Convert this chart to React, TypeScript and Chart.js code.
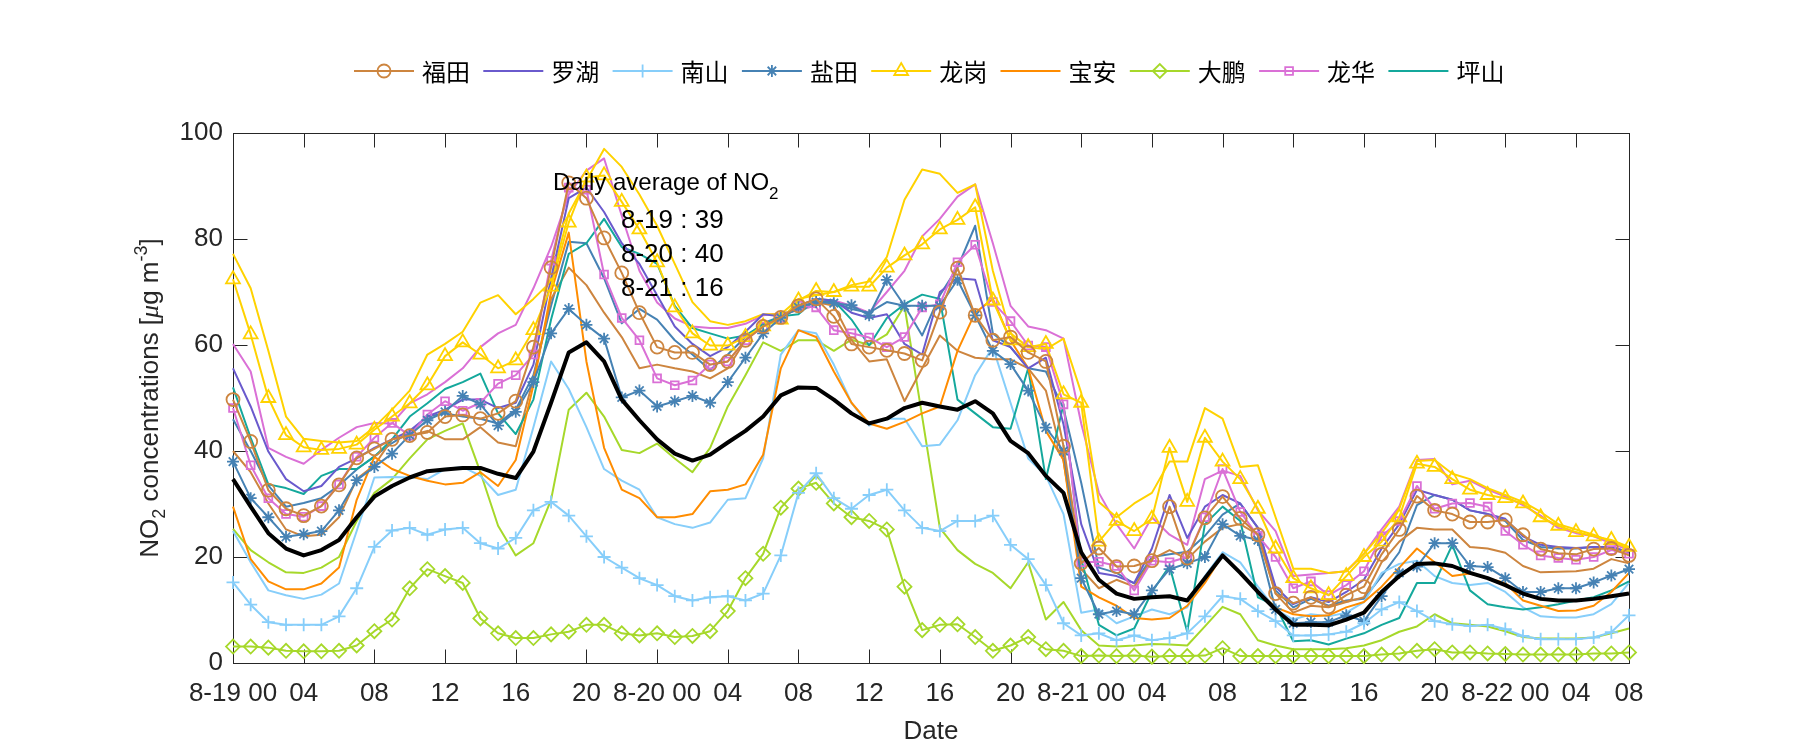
import React, { useEffect, useRef } from 'react';
import { Chart, registerables } from 'chart.js';
import { drawPoint } from 'chart.js/helpers';

Chart.register(...registerables);

// ---------- data ----------
const HOURS = Array.from({ length: 80 }, (_, i) => i);
const X_TICKS = [0, 4, 8, 12, 16, 20, 24, 28, 32, 36, 40, 44, 48, 52, 56, 60, 64, 68, 72, 76, 79];
const X_TICK_LABELS = ['8-19 00', '04', '08', '12', '16', '20', '8-20 00', '04', '08', '12', '16', '20', '8-21 00', '04', '08', '12', '16', '20', '8-22 00', '04', '08'];
const Y_TICKS = [0, 20, 40, 60, 80, 100];

const DISTRICTS = ['福田', '罗湖', '南山', '盐田', '龙岗', '宝安', '大鹏', '龙华', '坪山'];
const DAILY_AVG_DAYS = ['8-19', '8-20', '8-21'];
const DAILY_AVG_VALUES = [39, 40, 16];

const FUTIAN = [49.7, 41.8, 32.6, 29.1, 27.8, 29.6, 33.6, 38.7, 40.4, 42.2, 42.9, 43.5,
  46.5, 46.8, 46.1, 47.1, 49.4, 59.6, 74.6, 90.6, 87.7, 80.2, 73.6, 66.1,
  59.6, 58.6, 58.6, 56.3, 56.9, 60.9, 63.5, 65.2, 67.4, 68.7, 65.4, 60.2,
  59.6, 59, 58.4, 57.1, 66.2, 74.5, 65.6, 60.9, 61.5, 58.6, 56.9, 40.9,
  18.8, 21.7, 18.2, 18.3, 19.3, 29.5, 19.8, 27.4, 31.4, 27.3, 24.2, 13.1,
  11.3, 12.4, 10.6, 12.8, 14.4, 20.5, 25.2, 31.5, 28.8, 28.1, 26.6, 26.6,
  27, 24.2, 21.5, 20.7, 20.5, 21.5, 21.6, 20.3];
const FUTIAN_B = [40, 36, 30.1, 25.2, 23.9, 24.2, 27.5, 34.7, 37.3, 42.2, 42.9, 43.8,
  42.2, 42.2, 44.5, 41.6, 40.9, 53.7, 68.7, 74.6, 71.3, 66.1, 61.5, 55.6,
  56.3, 55.6, 55, 53.7, 55.6, 60.9, 63.8, 65.1, 67.1, 68.1, 67.4, 60.9,
  56.9, 57.3, 49.4, 55.6, 61.8, 58.9, 57.6, 57.3, 57.3, 55.6, 51.4, 38,
  17.7, 14.1, 15.7, 14.4, 19.6, 21.3, 19.6, 22.9, 25.5, 26.2, 24.2, 13.1,
  9.5, 10.8, 10.5, 11.5, 12.4, 19, 22.9, 25.5, 25.2, 25.2, 21.9, 21.6,
  20.8, 18.3, 17.1, 17.2, 17.3, 17.8, 19.6, 18.8];
const LUOHU = [55.6, 48.4, 39.9, 34.7, 32.4, 33.4, 37, 38.6, 40.6, 42.2, 43.8, 46.5,
  47.8, 49.7, 49.7, 48.1, 49.1, 56.3, 72.6, 87.7, 89.7, 85.1, 79.2, 75.3,
  69.4, 63.5, 60.2, 57.9, 59.6, 62.5, 65.8, 65.4, 67.4, 68.7, 68.4, 66.1,
  65.1, 65.8, 60.2, 58.2, 70, 72.6, 72.3, 60.9, 59.6, 55.6, 57.6, 45,
  26.2, 17, 16.4, 15.1, 21.6, 31.7, 23.6, 29.5, 31.7, 30.1, 25.5, 14.4,
  11.1, 12.4, 11.5, 13.4, 15.7, 21.6, 26.2, 32.7, 31.7, 30.8, 28.8, 28.1,
  27.2, 23.9, 22.3, 21.9, 21.7, 21.9, 21.9, 20.9];
const NANSHAN = [15.2, 11, 7.7, 7.2, 7.2, 7.2, 8.8, 14.1, 21.9, 25, 25.5, 24.2,
  25.2, 25.5, 22.6, 21.6, 23.6, 28.8, 30.4, 27.8, 23.9, 20, 18, 16,
  14.7, 12.6, 11.8, 12.4, 12.6, 11.8, 13.1, 20.3, 32.1, 35.8, 31.1, 29.1,
  31.7, 32.7, 28.8, 25.5, 24.9, 26.8, 26.8, 27.8, 22.3, 19.6, 14.7, 7.5,
  5.2, 5.6, 4.3, 5.2, 4.3, 4.7, 5.6, 8.8, 12.6, 12.1, 9.8, 7.9,
  5.2, 5.2, 5.4, 5.9, 7.5, 10.1, 11.5, 9.8, 7.9, 7.3, 7, 7.2,
  6.4, 5.1, 4.5, 4.5, 4.5, 4.8, 5.8, 9];
const NANSHAN_B = [24.9, 19, 13.7, 12.8, 12.1, 12.9, 15, 24.9, 35, 35.1, 35, 34.7,
  36.6, 37, 35.3, 31.7, 32.7, 44.5, 56.9, 51.7, 44.5, 36.6, 34.4, 32.7,
  27.5, 26.2, 25.5, 26.5, 30.8, 31.1, 38.6, 58.2, 62.8, 62.2, 56.3, 49.1,
  44.8, 46.1, 46.1, 40.9, 41.2, 45.8, 54.3, 59.6, 49.1, 38.6, 35.3, 28.1,
  9.5, 10.1, 7.5, 8.8, 10.1, 9.2, 10.5, 16.4, 20.9, 19, 14.4, 10.1,
  8.2, 9.2, 8.8, 9.5, 11.5, 17, 18.7, 19.3, 16.4, 15.1, 14.7, 15.1,
  13.4, 10.5, 8.8, 8.6, 8.6, 9.2, 11.1, 15.1];
const YANTIAN = [38, 31.1, 27.5, 23.8, 24.3, 24.9, 28.8, 34.5, 37, 39.5, 43, 45.8,
  47.4, 50.4, 48.8, 44.8, 47.4, 53, 62.2, 66.8, 63.8, 61.2, 50.1, 51.4,
  48.4, 49.4, 50.4, 49.1, 53, 57.6, 62.2, 65.1, 67.1, 68.1, 67.9, 67.5,
  65.6, 72.3, 67.4, 67.4, 67.4, 72.3, 65.6, 58.9, 56.4, 51.4, 44.4, 40,
  16, 9.2, 9.8, 9.2, 13.7, 17.7, 18.8, 20, 26.2, 24, 23.2, 10.1,
  7.5, 7.7, 7.7, 9, 7.9, 12.6, 17, 18.2, 22.6, 22.6, 18.3, 18.1,
  16, 13.4, 13.4, 14.1, 14.1, 15.2, 16.5, 17.7];
const YANTIAN_B = [46, 40, 33.5, 29.5, 30.2, 31.1, 33.5, 36.5, 39, 41.5, 43.5, 46.5,
  47.1, 46.5, 46.1, 45.2, 47.8, 54.3, 67.4, 79.5, 79.2, 72.6, 64.1, 66.8,
  64.8, 60.9, 58.2, 55.3, 58.2, 61.5, 64.1, 65.4, 66.8, 68.1, 68.1, 66.8,
  66.1, 68.1, 67.4, 61.8, 69.4, 74.6, 82.5, 62.2, 59.6, 55.6, 55, 48,
  34, 18, 17, 15, 20, 20.5, 21, 24, 28, 30.1, 25.5, 13.7,
  10.5, 12.1, 10.8, 11.8, 12.1, 16.4, 20.9, 29.8, 31.7, 30.8, 28.8, 28.1,
  26.8, 23.2, 21.9, 21.6, 21.6, 21.9, 21.9, 20.9];
const LONGGANG = [72.4, 62, 50, 43, 40.7, 40.2, 40.4, 41.2, 44, 46.5, 49, 52.4,
  57.9, 60.5, 58.2, 55.6, 57.1, 62.8, 71, 83.1, 91.6, 92, 87, 81.8,
  75.6, 67.1, 62.2, 59.9, 59.9, 61.5, 63.5, 64.8, 68.4, 70.2, 70, 71,
  71, 74.6, 76.9, 79, 81.8, 83.6, 86, 68.4, 60.9, 59.6, 60.2, 50.7,
  49.1, 22.9, 26.8, 24.9, 27.2, 40.6, 30.4, 42.5, 38, 34.7, 29.1, 21.6,
  16, 14.1, 12.8, 16.4, 20, 22.9, 27.5, 37.6, 37, 34.7, 32.7, 31.7,
  31.1, 30.1, 27.5, 25.9, 24.7, 23.9, 23.2, 21.9];
const LONGGANG_B = [77.2, 70.7, 58.9, 46.5, 42.3, 41.9, 41.6, 41.9, 44.5, 47.8, 51.4, 58.2,
  60.2, 62.5, 68, 69.4, 65.8, 68.7, 72, 84.8, 91, 97, 93.6, 88.4,
  82.5, 75.3, 68.1, 64.5, 63.8, 64.5, 65.8, 65.8, 68.7, 69.4, 70, 71.3,
  72, 76.6, 87.4, 93.1, 92.3, 88.7, 90.3, 74, 62.2, 59.6, 59.2, 61.2,
  51, 30.4, 27.5, 30.1, 32.1, 38, 38, 48.1, 46.1, 37, 37.3, 27.5,
  17.8, 17.8, 17, 17.3, 20.6, 24.5, 29.1, 38.1, 38.3, 35.7, 34.7, 33,
  31.7, 30.4, 28.5, 26.2, 25.2, 24.2, 22.9, 21.6];
const BAOAN = [29.5, 19.6, 15.4, 13.9, 13.9, 15, 18, 30.8, 38.9, 36.6, 35.3, 34.4,
  33.7, 34, 36, 33.4, 38.3, 52.4, 70, 81.2, 56.9, 40.6, 32.7, 31.1,
  27.5, 27.5, 28.1, 32.4, 32.7, 33.7, 39.3, 55.6, 62.8, 61.5, 55, 49.1,
  45.2, 44.2, 45.5, 47.1, 48.4, 58.9, 66.1, 68.7, 60.9, 55.6, 43.8, 38.3,
  14.4, 12.4, 10.8, 8.5, 8.2, 8.5, 10.8, 15.1, 20.4, 17, 13.4, 10.5,
  9.2, 8.8, 9, 10.5, 11.5, 14.4, 18, 21.6, 19, 16.4, 16.9, 16,
  15.1, 11.8, 10.8, 9.8, 9.9, 10.8, 13.4, 17];
const DAPENG = [3.1, 3.1, 2.9, 2.3, 2.2, 2.2, 2.3, 3.3, 6, 8.2, 14.1, 17.7,
  16.4, 15.1, 8.4, 5.6, 4.7, 4.7, 5.4, 5.9, 7.2, 7.2, 5.6, 5.2,
  5.6, 4.9, 5.1, 6, 9.8, 16, 20.6, 29.3, 32.9, 34, 30.1, 27.5,
  26.8, 25.2, 14.4, 6.2, 7.2, 7.3, 4.9, 2.3, 3.3, 4.9, 2.6, 2.3,
  1.3, 1.4, 1.3, 1.4, 1.2, 1.3, 1.3, 1.4, 2.8, 1.3, 1.3, 1.3,
  1.3, 1.3, 1.3, 1.3, 1.3, 1.6, 1.8, 2.3, 2.6, 2, 2, 1.8,
  1.7, 1.6, 1.6, 1.6, 1.6, 1.8, 1.8, 2];
const DAPENG_B = [25.3, 21.3, 19, 17.1, 17, 18, 20, 26.8, 32.1, 34.7, 38.6, 42.2,
  43.8, 45.2, 36, 25.9, 20.3, 22.6, 30.8, 47.8, 51, 46.5, 40.2, 39.6,
  41.4, 38.6, 36, 40.6, 48.4, 54.3, 60.5, 58.9, 60.9, 60.9, 58.9, 61,
  60, 62, 67.4, 46.5, 25.5, 21.3, 18.7, 17, 14.1, 19, 8.2, 11.5,
  6.2, 3.3, 3.1, 3.3, 3.6, 3.5, 3.3, 6.9, 10.6, 9.2, 4.3, 3.3,
  2.6, 2.6, 2.6, 2.8, 3.3, 4.3, 5.9, 6.9, 9.2, 7.5, 7.2, 6.9,
  6, 4.9, 4.6, 4.6, 4.6, 4.8, 5.6, 6.5];
const LONGHUA = [48.1, 37.3, 31.1, 28.1, 27.6, 29.6, 33.7, 38.9, 42.5, 45.3, 42.9, 46.9,
  49.4, 47.6, 49.1, 52.7, 54.3, 58.2, 75.9, 89.7, 89.3, 73.3, 65.1, 60.9,
  53.7, 52.4, 53.3, 56.3, 56.9, 60.9, 63.5, 65.1, 67.4, 67.1, 62.8, 62.2,
  61.4, 59.6, 61.5, 67.1, 67.7, 75.6, 78.9, 68.1, 64.5, 59.9, 59.6, 48.8,
  19, 19.1, 18.3, 13.7, 19.3, 19, 20, 27.5, 36.6, 28.5, 24, 20,
  14.1, 15.4, 12.8, 14.7, 17.3, 23.9, 26.8, 33.4, 29.1, 30.1, 30.2, 29.5,
  24.9, 22.3, 20.3, 19.8, 19.5, 20, 21.3, 20.6];
const LONGHUA_B = [60.2, 55, 40.6, 38.9, 37.6, 40.2, 42.5, 44.5, 45.3, 45.2, 49, 50.7,
  53, 55.6, 59.6, 62.2, 63.8, 70.7, 78.5, 88.4, 92.9, 95.2, 84.4, 74,
  68, 65, 63.5, 63.2, 63.2, 64, 65.6, 66, 66.5, 67.5, 68.4, 67.4,
  66.1, 70, 74, 80.5, 83.8, 88, 90.3, 79.2, 67.4, 63.5, 62.8, 61.2,
  45.2, 32.1, 26.2, 21.6, 27.5, 24.2, 22.3, 34.7, 36.3, 35.3, 28.8, 24.9,
  16.4, 16.7, 17, 17.3, 20.6, 25.2, 29.5, 38.3, 38.5, 33.7, 34.4, 32.7,
  31.4, 29.8, 27.8, 25.5, 24.5, 23.9, 22.6, 21.3];
const PINGSHAN = [52, 42.5, 33.7, 33, 31.9, 35.3, 36.6, 36.6, 38.9, 42.2, 46.5, 49,
  51.7, 53, 54.6, 47.1, 43.2, 49.7, 64.8, 77.2, 79.2, 83.8, 78.5, 77.2,
  75.3, 67.4, 63.2, 62.2, 61.2, 61.8, 63.8, 65.4, 65.8, 68.7, 68.4, 64.8,
  59.9, 65.1, 67.7, 69.5, 68.7, 49.7, 47.1, 44.5, 44.2, 55.6, 34.7, 48.8,
  19.6, 7.2, 5.2, 6.5, 13.4, 18.3, 5.9, 26.2, 29.5, 26.8, 12.4, 10.8,
  4.1, 4.3, 3.5, 4.6, 5.6, 7.2, 8.5, 15.1, 15.1, 22.3, 13.7, 11.1,
  10.5, 10.1, 10.5, 11.1, 11.8, 12.4, 13.7, 15.4];
const AVERAGE = [34.7, 29.5, 24.5, 21.6, 20.3, 21.3, 23.2, 27.5, 31.4, 33.4, 35, 36.2,
  36.5, 36.8, 36.8, 35.7, 34.9, 39.9, 49.1, 58.6, 60.5, 56.9, 49.7, 45.8,
  42.2, 39.5, 38.2, 39.3, 41.6, 43.8, 46.5, 50.5, 52, 51.9, 49.7, 47.1,
  45.2, 46.1, 48.1, 49.1, 48.4, 47.8, 49.4, 47.1, 41.9, 39.6, 35.3, 32.1,
  20.9, 15.7, 13.1, 12.1, 12.4, 12.6, 11.8, 16, 20.3, 17, 13.4, 10.1,
  7.2, 7.2, 7.1, 8.2, 9.5, 13.4, 16.4, 18.7, 18.8, 18.3, 17, 16,
  14.7, 13.1, 12.1, 11.8, 11.8, 12.1, 12.6, 13.1];

// ---------- styles ----------
const FONT = '"Liberation Sans", Arial, Helvetica, sans-serif';
const CJK = '"Noto Sans CJK SC", "Noto Sans", sans-serif';
const AXIS_COLOR = '#262626';

const COLORS = {
  futian: '#CD853F', luohu: '#6A5ACD', nanshan: '#87CEFA', yantian: '#4682B4',
  longgang: '#FFD200', baoan: '#FF8C00', dapeng: '#A6D82A', longhua: '#DA70D6', pingshan: '#14A89C',
};

const LEGEND_ITEMS = [
  { name: DISTRICTS[0], color: COLORS.futian, style: 'circle', radius: 6.5 },
  { name: DISTRICTS[1], color: COLORS.luohu, style: null, radius: 0 },
  { name: DISTRICTS[2], color: COLORS.nanshan, style: 'cross', radius: 6.5 },
  { name: DISTRICTS[3], color: COLORS.yantian, style: 'star', radius: 6 },
  { name: DISTRICTS[4], color: COLORS.longgang, style: 'triangle', radius: 8 },
  { name: DISTRICTS[5], color: COLORS.baoan, style: null, radius: 0 },
  { name: DISTRICTS[6], color: COLORS.dapeng, style: 'rectRot', radius: 7 },
  { name: DISTRICTS[7], color: COLORS.longhua, style: 'rect', radius: 5.5 },
  { name: DISTRICTS[8], color: COLORS.pingshan, style: null, radius: 0 },
];

function line(label: string, values: number[], color: string, style: string | null, radius: number, width = 2) {
  return {
    label,
    data: values.map((y, i) => ({ x: HOURS[i], y })),
    borderColor: color,
    backgroundColor: color,
    borderWidth: width,
    borderJoinStyle: 'round',
    pointStyle: style || 'circle',
    pointRadius: style ? radius : 0,
    pointHoverRadius: style ? radius : 0,
    pointBorderWidth: 1.8,
    pointBorderColor: color,
    pointBackgroundColor: 'rgba(0,0,0,0)',
    tension: 0,
    clip: false,
  };
}

type Seg = { t: string; size: number; dy?: number; italic?: boolean; family?: string };
function segFont(s: Seg) {
  return `${s.italic ? 'italic ' : ''}${s.size}px ${s.family || FONT}`;
}
function richWidth(ctx: CanvasRenderingContext2D, segs: Seg[]) {
  let w = 0;
  for (const s of segs) { ctx.font = segFont(s); w += ctx.measureText(s.t).width; }
  return w;
}
function drawRich(ctx: CanvasRenderingContext2D, segs: Seg[], x: number, y: number) {
  let cx = x;
  for (const s of segs) {
    ctx.font = segFont(s);
    ctx.fillText(s.t, cx, y + (s.dy || 0));
    cx += ctx.measureText(s.t).width;
  }
}

const framePlugin = {
  id: 'matlabFrame',
  beforeDatasetsDraw(chart: any) {
    const { ctx, chartArea: a, scales } = chart;
    ctx.save();
    ctx.strokeStyle = AXIS_COLOR;
    ctx.lineWidth = 1;
    const L = Math.round(a.left) + 0.5, R = Math.round(a.right) + 0.5;
    const T = Math.round(a.top) + 0.5, B = Math.round(a.bottom) + 0.5;
    ctx.strokeRect(L, T, R - L, B - T);
    const TL = 14;
    ctx.beginPath();
    for (const v of X_TICKS) {
      const px = Math.round(scales.x.getPixelForValue(v)) + 0.5;
      ctx.moveTo(px, B); ctx.lineTo(px, B - TL);
      ctx.moveTo(px, T); ctx.lineTo(px, T + TL);
    }
    for (const v of Y_TICKS) {
      const py = Math.round(scales.y.getPixelForValue(v)) + 0.5;
      ctx.moveTo(L, py); ctx.lineTo(L + TL, py);
      ctx.moveTo(R, py); ctx.lineTo(R - TL, py);
    }
    ctx.stroke();
    ctx.restore();
  },
};

const legendPlugin = {
  id: 'matlabLegend',
  afterDraw(chart: any) {
    const ctx = chart.ctx as CanvasRenderingContext2D;
    ctx.save();
    const y = 71;
    LEGEND_ITEMS.forEach((it, i) => {
      const x0 = 354 + i * 129.3;
      ctx.strokeStyle = it.color;
      ctx.lineWidth = 2;
      ctx.beginPath(); ctx.moveTo(x0, y); ctx.lineTo(x0 + 60, y); ctx.stroke();
      if (it.style) {
        ctx.fillStyle = 'rgba(0,0,0,0)';
        ctx.lineWidth = 1.8;
        drawPoint(ctx, { pointStyle: it.style as any, radius: it.radius, rotation: 0, borderWidth: 1.8 } as any, x0 + 30, y);
      }
      ctx.fillStyle = '#000';
      ctx.font = `24px ${CJK}`;
      ctx.textAlign = 'left';
      ctx.textBaseline = 'middle';
      ctx.fillText(it.name, x0 + 68, y + 1);
    });
    ctx.restore();
  },
};

const textPlugin = {
  id: 'matlabTexts',
  afterDraw(chart: any) {
    const ctx = chart.ctx as CanvasRenderingContext2D;
    ctx.save();
    ctx.fillStyle = '#000';
    ctx.textAlign = 'left';
    ctx.textBaseline = 'alphabetic';
    drawRich(ctx, [{ t: 'Daily average of NO', size: 24 }, { t: '2', size: 17, dy: 9 }], 553, 190);
    DAILY_AVG_DAYS.forEach((d, i) => {
      drawRich(ctx, [{ t: `${d} : ${DAILY_AVG_VALUES[i]}`, size: 26 }], 621, [228, 262, 296][i]);
    });
    const segs: Seg[] = [
      { t: 'NO', size: 26 }, { t: '2', size: 18, dy: 7 }, { t: ' concentrations [', size: 26 },
      { t: 'μ', size: 26, italic: true, family: '"Liberation Serif", serif' }, { t: 'g m', size: 26 },
      { t: '-3', size: 18, dy: -11 }, { t: ']', size: 26 },
    ];
    ctx.fillStyle = AXIS_COLOR;
    const w = richWidth(ctx, segs);
    ctx.translate(149, 398);
    ctx.rotate(-Math.PI / 2);
    drawRich(ctx, segs, -w / 2, 9);
    ctx.restore();
  },
};

export default function App() {
  const ref = useRef<HTMLCanvasElement>(null);
  useEffect(() => {
    const datasets: any[] = [
      line('平均', AVERAGE, '#000000', null, 0, 4),
      line(DISTRICTS[0], FUTIAN, COLORS.futian, 'circle', 6.5),
      line(DISTRICTS[2], NANSHAN, COLORS.nanshan, 'cross', 6.5),
      line(DISTRICTS[3], YANTIAN, COLORS.yantian, 'star', 6),
      line(DISTRICTS[4], LONGGANG, COLORS.longgang, 'triangle', 8),
      line(DISTRICTS[6], DAPENG, COLORS.dapeng, 'rectRot', 7),
      line(DISTRICTS[7], LONGHUA, COLORS.longhua, 'rect', 5.5),
      line(DISTRICTS[1], LUOHU, COLORS.luohu, null, 0),
      line(DISTRICTS[5], BAOAN, COLORS.baoan, null, 0),
      line(DISTRICTS[8], PINGSHAN, COLORS.pingshan, null, 0),
      line(DISTRICTS[0] + ' b', FUTIAN_B, COLORS.futian, null, 0),
      line(DISTRICTS[2] + ' b', NANSHAN_B, COLORS.nanshan, null, 0),
      line(DISTRICTS[3] + ' b', YANTIAN_B, COLORS.yantian, null, 0),
      line(DISTRICTS[4] + ' b', LONGGANG_B, COLORS.longgang, null, 0),
      line(DISTRICTS[6] + ' b', DAPENG_B, COLORS.dapeng, null, 0),
      line(DISTRICTS[7] + ' b', LONGHUA_B, COLORS.longhua, null, 0),
    ];
    const chart = new Chart(ref.current as HTMLCanvasElement, {
      type: 'line',
      data: { datasets },
      options: {
        responsive: false,
        animation: false,
        devicePixelRatio: 1,
        events: [],
        layout: { padding: { top: 133, right: 171, left: 0, bottom: 0 } },
        plugins: { legend: { display: false }, tooltip: { enabled: false } },
        scales: {
          x: {
            type: 'linear',
            min: 0,
            max: 79,
            afterBuildTicks: (s: any) => { s.ticks = X_TICKS.map((v) => ({ value: v })); },
            afterFit: (s: any) => { s.height = 87; },
            ticks: {
              autoSkip: false,
              maxRotation: 0,
              minRotation: 0,
              padding: 15,
              color: AXIS_COLOR,
              font: { family: FONT, size: 26 },
              callback: (v: any) => X_TICK_LABELS[X_TICKS.indexOf(Number(v))] ?? '',
            },
            grid: { display: false, drawTicks: false },
            border: { display: false },
            title: { display: true, text: 'Date', color: AXIS_COLOR, font: { family: FONT, size: 26 }, padding: { top: 0, bottom: 3 } },
          },
          y: {
            min: 0,
            max: 100,
            afterFit: (s: any) => { s.width = 233; },
            ticks: { stepSize: 20, padding: 10, color: AXIS_COLOR, font: { family: FONT, size: 26 } },
            grid: { display: false, drawTicks: false },
            border: { display: false },
          },
        },
      } as any,
      plugins: [framePlugin, legendPlugin, textPlugin],
    });
    return () => chart.destroy();
  }, []);
  return (
    <div style={{ position: 'absolute', left: 0, top: 0, width: 1800, height: 750, background: '#fff' }}>
      <canvas ref={ref} width={1800} height={750} style={{ display: 'block', width: 1800, height: 750 }} />
    </div>
  );
}
